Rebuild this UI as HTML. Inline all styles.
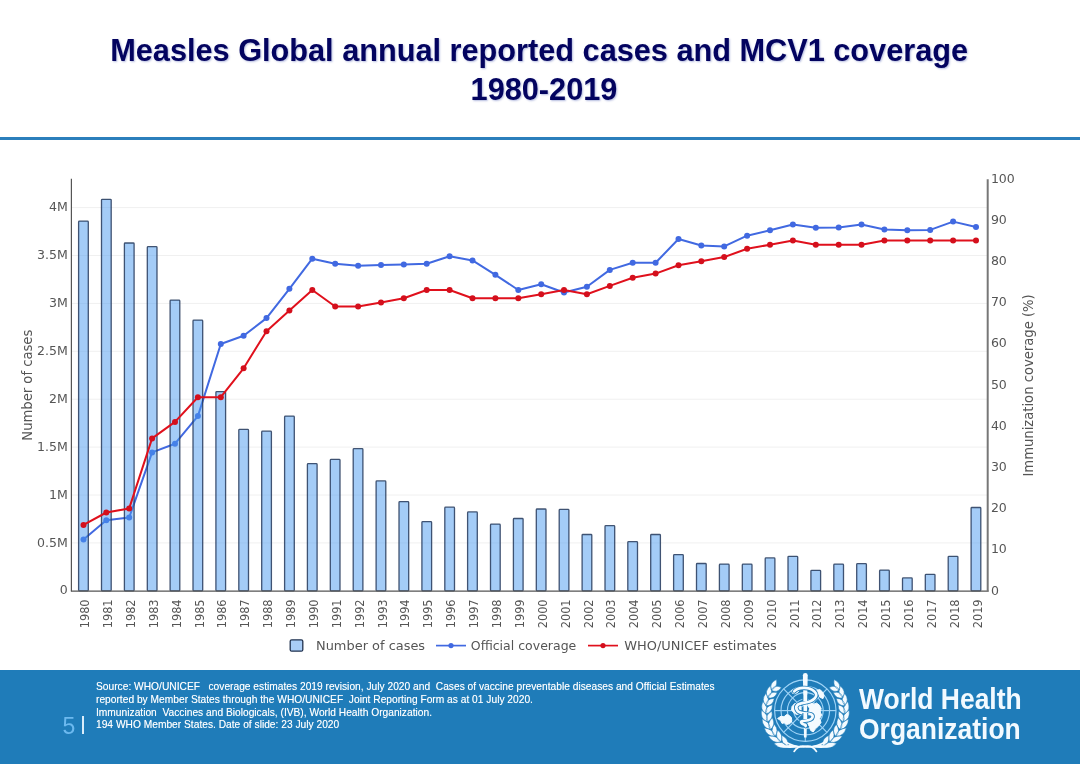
<!DOCTYPE html>
<html lang="en">
<head>
<meta charset="utf-8">
<title>Measles Global annual reported cases and MCV1 coverage 1980-2019</title>
<style>
html,body{margin:0;padding:0;background:#fff;}
body{width:1080px;height:764px;position:relative;overflow:hidden;font-family:"Liberation Sans",sans-serif;}
.title{position:absolute;left:0;top:0;width:1080px;text-align:left;color:#03035f;font-weight:bold;font-size:30.7px;line-height:38.2px;white-space:pre;text-shadow:1px 1.2px 2px rgba(60,80,170,0.38);}
.t1{position:absolute;left:110.2px;top:32.4px;}
.t2{position:absolute;left:470.6px;top:70.8px;}
.rule{position:absolute;left:0;top:136.7px;width:1080px;height:3.8px;background:#2b7fbc;}
.footer{position:absolute;left:0;top:669.5px;width:1080px;height:94.5px;background:#1f7cb9;}
.src{position:absolute;left:96.4px;color:#fff;font-size:10.6px;line-height:12.6px;white-space:pre;transform-origin:0 0;transform:scaleX(0.965);text-shadow:0 0 0.7px rgba(255,255,255,0.55);}
.pg{position:absolute;left:62.4px;top:713.8px;color:#6cb9ef;font-size:23px;line-height:24px;}
.bar{position:absolute;left:81.6px;top:716.2px;width:2.2px;height:18.2px;background:#d9ecfa;}
.who{position:absolute;left:858.6px;color:#f2faff;font-weight:bold;font-size:29.8px;line-height:30px;white-space:pre;transform-origin:0 0;transform:scaleX(0.888);}
</style>
</head>
<body>
<div class="title"><div class="t1">Measles Global annual reported cases and MCV1 coverage</div><div class="t2">1980-2019</div></div>
<div class="rule"></div>
<svg width="1080" height="764" viewBox="0 0 1080 764" style="position:absolute;left:0;top:0" font-family='"DejaVu Sans", "Liberation Sans", sans-serif' fill="#555">
<line x1="71.4" x2="987.7" y1="542.9" y2="542.9" stroke="#f0f0f0" stroke-width="1"/>
<line x1="71.4" x2="987.7" y1="495.0" y2="495.0" stroke="#f0f0f0" stroke-width="1"/>
<line x1="71.4" x2="987.7" y1="447.1" y2="447.1" stroke="#f0f0f0" stroke-width="1"/>
<line x1="71.4" x2="987.7" y1="399.2" y2="399.2" stroke="#f0f0f0" stroke-width="1"/>
<line x1="71.4" x2="987.7" y1="351.3" y2="351.3" stroke="#f0f0f0" stroke-width="1"/>
<line x1="71.4" x2="987.7" y1="303.4" y2="303.4" stroke="#f0f0f0" stroke-width="1"/>
<line x1="71.4" x2="987.7" y1="255.5" y2="255.5" stroke="#f0f0f0" stroke-width="1"/>
<line x1="71.4" x2="987.7" y1="207.6" y2="207.6" stroke="#f0f0f0" stroke-width="1"/>
<polyline points="83.5,539.5 106.3,520.3 129.2,517.5 152.1,452.4 175.0,443.7 197.9,416.1 220.8,344.0 243.6,335.8 266.5,318.1 289.4,288.8 312.3,258.7 335.2,263.7 358.1,265.7 381.0,265.1 403.8,264.5 426.7,263.7 449.6,256.3 472.5,260.4 495.4,274.8 518.3,290.0 541.2,284.3 564.0,292.5 586.9,286.7 609.8,269.9 632.7,262.8 655.6,262.8 678.5,239.0 701.3,245.5 724.2,246.4 747.1,235.7 770.0,230.3 792.9,224.5 815.8,227.8 838.7,227.4 861.5,224.5 884.4,229.5 907.3,230.3 930.2,229.9 953.1,221.6 976.0,227.0" fill="none" stroke="#4169e1" stroke-width="2" stroke-linejoin="round"/>
<circle cx="83.5" cy="539.5" r="3" fill="#4169e1"/>
<circle cx="106.3" cy="520.3" r="3" fill="#4169e1"/>
<circle cx="129.2" cy="517.5" r="3" fill="#4169e1"/>
<circle cx="152.1" cy="452.4" r="3" fill="#4169e1"/>
<circle cx="175.0" cy="443.7" r="3" fill="#4169e1"/>
<circle cx="197.9" cy="416.1" r="3" fill="#4169e1"/>
<circle cx="220.8" cy="344.0" r="3" fill="#4169e1"/>
<circle cx="243.6" cy="335.8" r="3" fill="#4169e1"/>
<circle cx="266.5" cy="318.1" r="3" fill="#4169e1"/>
<circle cx="289.4" cy="288.8" r="3" fill="#4169e1"/>
<circle cx="312.3" cy="258.7" r="3" fill="#4169e1"/>
<circle cx="335.2" cy="263.7" r="3" fill="#4169e1"/>
<circle cx="358.1" cy="265.7" r="3" fill="#4169e1"/>
<circle cx="381.0" cy="265.1" r="3" fill="#4169e1"/>
<circle cx="403.8" cy="264.5" r="3" fill="#4169e1"/>
<circle cx="426.7" cy="263.7" r="3" fill="#4169e1"/>
<circle cx="449.6" cy="256.3" r="3" fill="#4169e1"/>
<circle cx="472.5" cy="260.4" r="3" fill="#4169e1"/>
<circle cx="495.4" cy="274.8" r="3" fill="#4169e1"/>
<circle cx="518.3" cy="290.0" r="3" fill="#4169e1"/>
<circle cx="541.2" cy="284.3" r="3" fill="#4169e1"/>
<circle cx="564.0" cy="292.5" r="3" fill="#4169e1"/>
<circle cx="586.9" cy="286.7" r="3" fill="#4169e1"/>
<circle cx="609.8" cy="269.9" r="3" fill="#4169e1"/>
<circle cx="632.7" cy="262.8" r="3" fill="#4169e1"/>
<circle cx="655.6" cy="262.8" r="3" fill="#4169e1"/>
<circle cx="678.5" cy="239.0" r="3" fill="#4169e1"/>
<circle cx="701.3" cy="245.5" r="3" fill="#4169e1"/>
<circle cx="724.2" cy="246.4" r="3" fill="#4169e1"/>
<circle cx="747.1" cy="235.7" r="3" fill="#4169e1"/>
<circle cx="770.0" cy="230.3" r="3" fill="#4169e1"/>
<circle cx="792.9" cy="224.5" r="3" fill="#4169e1"/>
<circle cx="815.8" cy="227.8" r="3" fill="#4169e1"/>
<circle cx="838.7" cy="227.4" r="3" fill="#4169e1"/>
<circle cx="861.5" cy="224.5" r="3" fill="#4169e1"/>
<circle cx="884.4" cy="229.5" r="3" fill="#4169e1"/>
<circle cx="907.3" cy="230.3" r="3" fill="#4169e1"/>
<circle cx="930.2" cy="229.9" r="3" fill="#4169e1"/>
<circle cx="953.1" cy="221.6" r="3" fill="#4169e1"/>
<circle cx="976.0" cy="227.0" r="3" fill="#4169e1"/>
<g fill="#4a99f0" fill-opacity="0.5" stroke="#24385a" stroke-opacity="0.85" stroke-width="1.3">
<rect x="78.6" y="221.1" width="9.7" height="369.7" rx="0.8"/>
<rect x="101.5" y="199.3" width="9.7" height="391.5" rx="0.8"/>
<rect x="124.4" y="243.0" width="9.7" height="347.8" rx="0.8"/>
<rect x="147.3" y="246.7" width="9.7" height="344.1" rx="0.8"/>
<rect x="170.1" y="300.1" width="9.7" height="290.7" rx="0.8"/>
<rect x="193.0" y="320.1" width="9.7" height="270.7" rx="0.8"/>
<rect x="215.9" y="391.6" width="9.7" height="199.2" rx="0.8"/>
<rect x="238.8" y="429.4" width="9.7" height="161.4" rx="0.8"/>
<rect x="261.7" y="431.2" width="9.7" height="159.6" rx="0.8"/>
<rect x="284.6" y="416.1" width="9.7" height="174.7" rx="0.8"/>
<rect x="307.4" y="463.6" width="9.7" height="127.2" rx="0.8"/>
<rect x="330.3" y="459.4" width="9.7" height="131.4" rx="0.8"/>
<rect x="353.2" y="448.7" width="9.7" height="142.1" rx="0.8"/>
<rect x="376.1" y="480.9" width="9.7" height="109.9" rx="0.8"/>
<rect x="399.0" y="501.6" width="9.7" height="89.2" rx="0.8"/>
<rect x="421.9" y="521.6" width="9.7" height="69.2" rx="0.8"/>
<rect x="444.8" y="507.2" width="9.7" height="83.6" rx="0.8"/>
<rect x="467.6" y="511.9" width="9.7" height="78.9" rx="0.8"/>
<rect x="490.5" y="524.1" width="9.7" height="66.7" rx="0.8"/>
<rect x="513.4" y="518.5" width="9.7" height="72.3" rx="0.8"/>
<rect x="536.3" y="509.0" width="9.7" height="81.8" rx="0.8"/>
<rect x="559.2" y="509.4" width="9.7" height="81.4" rx="0.8"/>
<rect x="582.1" y="534.5" width="9.7" height="56.3" rx="0.8"/>
<rect x="605.0" y="525.7" width="9.7" height="65.1" rx="0.8"/>
<rect x="627.8" y="541.7" width="9.7" height="49.1" rx="0.8"/>
<rect x="650.7" y="534.5" width="9.7" height="56.3" rx="0.8"/>
<rect x="673.6" y="554.6" width="9.7" height="36.2" rx="0.8"/>
<rect x="696.5" y="563.5" width="9.7" height="27.3" rx="0.8"/>
<rect x="719.4" y="564.1" width="9.7" height="26.7" rx="0.8"/>
<rect x="742.3" y="564.1" width="9.7" height="26.7" rx="0.8"/>
<rect x="765.2" y="557.9" width="9.7" height="32.9" rx="0.8"/>
<rect x="788.0" y="556.3" width="9.7" height="34.5" rx="0.8"/>
<rect x="810.9" y="570.3" width="9.7" height="20.5" rx="0.8"/>
<rect x="833.8" y="564.1" width="9.7" height="26.7" rx="0.8"/>
<rect x="856.7" y="563.7" width="9.7" height="27.1" rx="0.8"/>
<rect x="879.6" y="570.1" width="9.7" height="20.7" rx="0.8"/>
<rect x="902.5" y="577.9" width="9.7" height="12.9" rx="0.8"/>
<rect x="925.3" y="574.3" width="9.7" height="16.5" rx="0.8"/>
<rect x="948.2" y="556.3" width="9.7" height="34.5" rx="0.8"/>
<rect x="971.1" y="507.5" width="9.7" height="83.3" rx="0.8"/>
</g>
<polyline points="83.5,524.9 106.3,512.5 129.2,508.4 152.1,438.4 175.0,421.9 197.9,397.2 220.8,397.2 243.6,368.3 266.5,331.2 289.4,310.6 312.3,290.0 335.2,306.5 358.1,306.5 381.0,302.4 403.8,298.3 426.7,290.0 449.6,290.0 472.5,298.3 495.4,298.3 518.3,298.3 541.2,294.2 564.0,290.0 586.9,294.2 609.8,285.9 632.7,277.7 655.6,273.6 678.5,265.3 701.3,261.2 724.2,257.1 747.1,248.8 770.0,244.7 792.9,240.6 815.8,244.7 838.7,244.7 861.5,244.7 884.4,240.6 907.3,240.6 930.2,240.6 953.1,240.6 976.0,240.6" fill="none" stroke="#e0101c" stroke-width="2" stroke-linejoin="round"/>
<circle cx="83.5" cy="524.9" r="3" fill="#d40f1c"/>
<circle cx="106.3" cy="512.5" r="3" fill="#d40f1c"/>
<circle cx="129.2" cy="508.4" r="3" fill="#d40f1c"/>
<circle cx="152.1" cy="438.4" r="3" fill="#d40f1c"/>
<circle cx="175.0" cy="421.9" r="3" fill="#d40f1c"/>
<circle cx="197.9" cy="397.2" r="3" fill="#d40f1c"/>
<circle cx="220.8" cy="397.2" r="3" fill="#d40f1c"/>
<circle cx="243.6" cy="368.3" r="3" fill="#d40f1c"/>
<circle cx="266.5" cy="331.2" r="3" fill="#d40f1c"/>
<circle cx="289.4" cy="310.6" r="3" fill="#d40f1c"/>
<circle cx="312.3" cy="290.0" r="3" fill="#d40f1c"/>
<circle cx="335.2" cy="306.5" r="3" fill="#d40f1c"/>
<circle cx="358.1" cy="306.5" r="3" fill="#d40f1c"/>
<circle cx="381.0" cy="302.4" r="3" fill="#d40f1c"/>
<circle cx="403.8" cy="298.3" r="3" fill="#d40f1c"/>
<circle cx="426.7" cy="290.0" r="3" fill="#d40f1c"/>
<circle cx="449.6" cy="290.0" r="3" fill="#d40f1c"/>
<circle cx="472.5" cy="298.3" r="3" fill="#d40f1c"/>
<circle cx="495.4" cy="298.3" r="3" fill="#d40f1c"/>
<circle cx="518.3" cy="298.3" r="3" fill="#d40f1c"/>
<circle cx="541.2" cy="294.2" r="3" fill="#d40f1c"/>
<circle cx="564.0" cy="290.0" r="3" fill="#d40f1c"/>
<circle cx="586.9" cy="294.2" r="3" fill="#d40f1c"/>
<circle cx="609.8" cy="285.9" r="3" fill="#d40f1c"/>
<circle cx="632.7" cy="277.7" r="3" fill="#d40f1c"/>
<circle cx="655.6" cy="273.6" r="3" fill="#d40f1c"/>
<circle cx="678.5" cy="265.3" r="3" fill="#d40f1c"/>
<circle cx="701.3" cy="261.2" r="3" fill="#d40f1c"/>
<circle cx="724.2" cy="257.1" r="3" fill="#d40f1c"/>
<circle cx="747.1" cy="248.8" r="3" fill="#d40f1c"/>
<circle cx="770.0" cy="244.7" r="3" fill="#d40f1c"/>
<circle cx="792.9" cy="240.6" r="3" fill="#d40f1c"/>
<circle cx="815.8" cy="244.7" r="3" fill="#d40f1c"/>
<circle cx="838.7" cy="244.7" r="3" fill="#d40f1c"/>
<circle cx="861.5" cy="244.7" r="3" fill="#d40f1c"/>
<circle cx="884.4" cy="240.6" r="3" fill="#d40f1c"/>
<circle cx="907.3" cy="240.6" r="3" fill="#d40f1c"/>
<circle cx="930.2" cy="240.6" r="3" fill="#d40f1c"/>
<circle cx="953.1" cy="240.6" r="3" fill="#d40f1c"/>
<circle cx="976.0" cy="240.6" r="3" fill="#d40f1c"/>
<line x1="71.4" x2="71.4" y1="178.8" y2="591.3" stroke="#555" stroke-width="1.2"/>
<line x1="70.9" x2="988.7" y1="591.1999999999999" y2="591.1999999999999" stroke="#555" stroke-width="1.2"/>
<line x1="987.7" x2="987.7" y1="179.3" y2="591.3" stroke="#777" stroke-width="2"/>
<text transform="translate(67.8,594.4) scale(1.1,1)" font-size="11.4" text-anchor="end">0</text>
<text transform="translate(67.8,546.5) scale(1.1,1)" font-size="11.4" text-anchor="end">0.5M</text>
<text transform="translate(67.8,498.6) scale(1.1,1)" font-size="11.4" text-anchor="end">1M</text>
<text transform="translate(67.8,450.7) scale(1.1,1)" font-size="11.4" text-anchor="end">1.5M</text>
<text transform="translate(67.8,402.8) scale(1.1,1)" font-size="11.4" text-anchor="end">2M</text>
<text transform="translate(67.8,354.9) scale(1.1,1)" font-size="11.4" text-anchor="end">2.5M</text>
<text transform="translate(67.8,307.0) scale(1.1,1)" font-size="11.4" text-anchor="end">3M</text>
<text transform="translate(67.8,259.1) scale(1.1,1)" font-size="11.4" text-anchor="end">3.5M</text>
<text transform="translate(67.8,211.2) scale(1.1,1)" font-size="11.4" text-anchor="end">4M</text>
<text transform="translate(990.9,594.6) scale(1.1,1)" font-size="11.4">0</text>
<text transform="translate(990.9,553.4) scale(1.1,1)" font-size="11.4">10</text>
<text transform="translate(990.9,512.2) scale(1.1,1)" font-size="11.4">20</text>
<text transform="translate(990.9,471.0) scale(1.1,1)" font-size="11.4">30</text>
<text transform="translate(990.9,429.8) scale(1.1,1)" font-size="11.4">40</text>
<text transform="translate(990.9,388.6) scale(1.1,1)" font-size="11.4">50</text>
<text transform="translate(990.9,347.4) scale(1.1,1)" font-size="11.4">60</text>
<text transform="translate(990.9,306.2) scale(1.1,1)" font-size="11.4">70</text>
<text transform="translate(990.9,265.0) scale(1.1,1)" font-size="11.4">80</text>
<text transform="translate(990.9,223.8) scale(1.1,1)" font-size="11.4">90</text>
<text transform="translate(990.9,182.6) scale(1.1,1)" font-size="11.4">100</text>
<text transform="translate(89.0,599.4) rotate(-90) scale(0.925,1)" font-size="12.3" text-anchor="end">1980</text>
<text transform="translate(111.9,599.4) rotate(-90) scale(0.925,1)" font-size="12.3" text-anchor="end">1981</text>
<text transform="translate(134.8,599.4) rotate(-90) scale(0.925,1)" font-size="12.3" text-anchor="end">1982</text>
<text transform="translate(157.7,599.4) rotate(-90) scale(0.925,1)" font-size="12.3" text-anchor="end">1983</text>
<text transform="translate(180.6,599.4) rotate(-90) scale(0.925,1)" font-size="12.3" text-anchor="end">1984</text>
<text transform="translate(203.5,599.4) rotate(-90) scale(0.925,1)" font-size="12.3" text-anchor="end">1985</text>
<text transform="translate(226.4,599.4) rotate(-90) scale(0.925,1)" font-size="12.3" text-anchor="end">1986</text>
<text transform="translate(249.2,599.4) rotate(-90) scale(0.925,1)" font-size="12.3" text-anchor="end">1987</text>
<text transform="translate(272.1,599.4) rotate(-90) scale(0.925,1)" font-size="12.3" text-anchor="end">1988</text>
<text transform="translate(295.0,599.4) rotate(-90) scale(0.925,1)" font-size="12.3" text-anchor="end">1989</text>
<text transform="translate(317.9,599.4) rotate(-90) scale(0.925,1)" font-size="12.3" text-anchor="end">1990</text>
<text transform="translate(340.8,599.4) rotate(-90) scale(0.925,1)" font-size="12.3" text-anchor="end">1991</text>
<text transform="translate(363.7,599.4) rotate(-90) scale(0.925,1)" font-size="12.3" text-anchor="end">1992</text>
<text transform="translate(386.6,599.4) rotate(-90) scale(0.925,1)" font-size="12.3" text-anchor="end">1993</text>
<text transform="translate(409.4,599.4) rotate(-90) scale(0.925,1)" font-size="12.3" text-anchor="end">1994</text>
<text transform="translate(432.3,599.4) rotate(-90) scale(0.925,1)" font-size="12.3" text-anchor="end">1995</text>
<text transform="translate(455.2,599.4) rotate(-90) scale(0.925,1)" font-size="12.3" text-anchor="end">1996</text>
<text transform="translate(478.1,599.4) rotate(-90) scale(0.925,1)" font-size="12.3" text-anchor="end">1997</text>
<text transform="translate(501.0,599.4) rotate(-90) scale(0.925,1)" font-size="12.3" text-anchor="end">1998</text>
<text transform="translate(523.9,599.4) rotate(-90) scale(0.925,1)" font-size="12.3" text-anchor="end">1999</text>
<text transform="translate(546.8,599.4) rotate(-90) scale(0.925,1)" font-size="12.3" text-anchor="end">2000</text>
<text transform="translate(569.6,599.4) rotate(-90) scale(0.925,1)" font-size="12.3" text-anchor="end">2001</text>
<text transform="translate(592.5,599.4) rotate(-90) scale(0.925,1)" font-size="12.3" text-anchor="end">2002</text>
<text transform="translate(615.4,599.4) rotate(-90) scale(0.925,1)" font-size="12.3" text-anchor="end">2003</text>
<text transform="translate(638.3,599.4) rotate(-90) scale(0.925,1)" font-size="12.3" text-anchor="end">2004</text>
<text transform="translate(661.2,599.4) rotate(-90) scale(0.925,1)" font-size="12.3" text-anchor="end">2005</text>
<text transform="translate(684.1,599.4) rotate(-90) scale(0.925,1)" font-size="12.3" text-anchor="end">2006</text>
<text transform="translate(706.9,599.4) rotate(-90) scale(0.925,1)" font-size="12.3" text-anchor="end">2007</text>
<text transform="translate(729.8,599.4) rotate(-90) scale(0.925,1)" font-size="12.3" text-anchor="end">2008</text>
<text transform="translate(752.7,599.4) rotate(-90) scale(0.925,1)" font-size="12.3" text-anchor="end">2009</text>
<text transform="translate(775.6,599.4) rotate(-90) scale(0.925,1)" font-size="12.3" text-anchor="end">2010</text>
<text transform="translate(798.5,599.4) rotate(-90) scale(0.925,1)" font-size="12.3" text-anchor="end">2011</text>
<text transform="translate(821.4,599.4) rotate(-90) scale(0.925,1)" font-size="12.3" text-anchor="end">2012</text>
<text transform="translate(844.3,599.4) rotate(-90) scale(0.925,1)" font-size="12.3" text-anchor="end">2013</text>
<text transform="translate(867.1,599.4) rotate(-90) scale(0.925,1)" font-size="12.3" text-anchor="end">2014</text>
<text transform="translate(890.0,599.4) rotate(-90) scale(0.925,1)" font-size="12.3" text-anchor="end">2015</text>
<text transform="translate(912.9,599.4) rotate(-90) scale(0.925,1)" font-size="12.3" text-anchor="end">2016</text>
<text transform="translate(935.8,599.4) rotate(-90) scale(0.925,1)" font-size="12.3" text-anchor="end">2017</text>
<text transform="translate(958.7,599.4) rotate(-90) scale(0.925,1)" font-size="12.3" text-anchor="end">2018</text>
<text transform="translate(981.6,599.4) rotate(-90) scale(0.925,1)" font-size="12.3" text-anchor="end">2019</text>
<text transform="translate(32.3,385.2) rotate(-90) scale(0.935,1)" font-size="14.1" text-anchor="middle">Number of cases</text>
<text transform="translate(1033.2,385.4) rotate(-90) scale(0.935,1)" font-size="14.1" text-anchor="middle">Immunization coverage (%)</text>
<rect x="290.2" y="639.8" width="12.6" height="11.4" rx="1.5" fill="#a9cdf7" stroke="#22334f" stroke-width="1.3"/>
<text transform="translate(316.0,650.0) scale(1.07,1)" font-size="12.1">Number of cases</text>
<line x1="436" x2="466" y1="645.6" y2="645.6" stroke="#4169e1" stroke-width="1.7"/><circle cx="451" cy="645.6" r="2.6" fill="#4169e1"/>
<text transform="translate(470.8,650.0) scale(1.036,1)" font-size="12.1">Official coverage</text>
<line x1="588" x2="618" y1="645.6" y2="645.6" stroke="#e0101c" stroke-width="1.7"/><circle cx="603" cy="645.6" r="2.6" fill="#d40f1c"/>
<text transform="translate(624.3,650.0) scale(1.07,1)" font-size="12.1">WHO/UNICEF estimates</text>
</svg>
<div class="footer"></div>
<div class="src" style="top:680.4px">Source: WHO/UNICEF   coverage estimates 2019 revision, July 2020 and  Cases of vaccine preventable diseases and Official Estimates</div>
<div class="src" style="top:693.0px">reported by Member States through the WHO/UNICEF  Joint Reporting Form as at 01 July 2020.</div>
<div class="src" style="top:705.6px">Immunization  Vaccines and Biologicals, (IVB), World Health Organization.</div>
<div class="src" style="top:718.2px">194 WHO Member States. Date of slide: 23 July 2020</div>
<div class="pg">5</div><div class="bar"></div>
<svg width="1080" height="764" viewBox="0 0 1080 764" style="position:absolute;left:0;top:0">
<g fill="none" stroke="#9fd4f7" stroke-width="1.15">
<circle cx="805.3" cy="710.6" r="30.7"/>
<circle cx="805.3" cy="710.6" r="24.3"/>
<circle cx="805.3" cy="710.6" r="17.9"/>
<circle cx="805.3" cy="710.6" r="11.6"/>
<circle cx="805.3" cy="710.6" r="5.4"/>
<line x1="810.7" y1="710.6" x2="836.0" y2="710.6"/>
<line x1="809.1" y1="714.4" x2="827.0" y2="732.3"/>
<line x1="805.3" y1="716.0" x2="805.3" y2="741.3"/>
<line x1="801.5" y1="714.4" x2="783.6" y2="732.3"/>
<line x1="799.9" y1="710.6" x2="774.6" y2="710.6"/>
<line x1="801.5" y1="706.8" x2="783.6" y2="688.9"/>
<line x1="805.3" y1="705.2" x2="805.3" y2="679.9"/>
<line x1="809.1" y1="706.8" x2="827.0" y2="688.9"/>
</g>
<path d="M777.6,718.5 L781.0,716.2 L784.0,716.8 L786.5,714.6 L789.0,715.2 L791.4,717.6 L791.8,721.0 L790.0,723.6 L786.6,724.6 L784.6,722.8 L782.0,723.4 L780.6,720.6Z" fill="#f4fbff" stroke="#f4fbff" stroke-width="1" stroke-linejoin="round"/>
<path d="M807.6,704.6 L810.8,703.2 L814.5,704.2 L816.5,703.0 L819.4,705.2 L821.2,708.5 L820.2,712.0 L821.6,715.0 L819.6,718.6 L821.0,722.4 L818.6,726.0 L815.6,728.6 L813.2,732.0 L810.6,730.4 L809.4,726.4 L807.6,723.6 L809.4,720.0 L812.2,717.6 L811.2,714.0 L808.6,712.6 L809.6,708.6Z" fill="#f4fbff" stroke="#f4fbff" stroke-width="1" stroke-linejoin="round"/>
<path d="M791.8,690.6 L794.6,688.6 L798.0,688.4 L799.6,690.4 L797.6,692.4 L795.0,693.8 L792.4,693.2Z" fill="#f4fbff" stroke="#f4fbff" stroke-width="1" stroke-linejoin="round"/>
<path d="M816.6,690.4 L819.8,689.6 L822.6,692.0 L824.0,695.4 L823.0,698.6 L820.2,697.4 L818.6,694.4Z" fill="#f4fbff" stroke="#f4fbff" stroke-width="1" stroke-linejoin="round"/>
<path d="M792.0,706.6 L794.6,703.6 L798.0,703.4 L800.6,705.6 L801.2,709.6 L799.6,713.6 L796.6,714.6 L793.6,712.6 L791.6,710.0Z" fill="#f4fbff" stroke="#f4fbff" stroke-width="1" stroke-linejoin="round"/>
<path d="M802.9,675.2 Q802.9,672.9 805.3,672.9 Q807.6999999999999,672.9 807.6999999999999,675.2 L806.5999999999999,737.6 L804.0,737.6Z" fill="#f4fbff"/>
<path d="M794.2,691.4 C798.0,687.2 809.0,686.4 814.4,691.4 S812.6,701.6 804.8,702.6 S794.4,706.2 797.4,710.8 S813.6,711.6 812.6,717.0 S799.6,719.4 801.2,722.6 S806.4,723.6 805.6,726.2" fill="none" stroke="#1f7cb9" stroke-width="4.4" stroke-linecap="round"/>
<path d="M794.2,691.4 C798.0,687.2 809.0,686.4 814.4,691.4 S812.6,701.6 804.8,702.6 S794.4,706.2 797.4,710.8 S813.6,711.6 812.6,717.0 S799.6,719.4 801.2,722.6 S806.4,723.6 805.6,726.2" fill="none" stroke="#f4fbff" stroke-width="2.7" stroke-linecap="round"/>
<rect x="802.4" y="694.5" width="5.8" height="6.0" fill="#1f7cb9"/>
<rect x="803.4" y="694.0" width="3.8" height="7.0" fill="#f4fbff"/>
<rect x="802.4" y="713.0" width="5.8" height="5.5" fill="#1f7cb9"/>
<rect x="803.4" y="712.5" width="3.8" height="6.5" fill="#f4fbff"/>
<path d="M787.8,746.5Q782.7,740.2 773.9,743.4Q780.5,750.0 787.8,746.5ZM787.8,746.5Q789.5,739.0 781.7,735.2Q780.7,743.8 787.8,746.5ZM780.8,742.1Q777.3,734.9 768.3,736.1Q773.0,743.9 780.8,742.1ZM780.8,742.1Q784.1,735.3 777.5,730.0Q774.5,738.0 780.8,742.1ZM774.8,736.4Q773.2,728.7 764.2,727.9Q766.9,736.5 774.8,736.4ZM774.8,736.4Q779.6,730.7 774.3,724.2Q769.6,731.1 774.8,736.4ZM770.2,729.6Q770.4,721.8 762.0,719.1Q762.6,728.0 770.2,729.6ZM770.2,729.6Q776.1,725.2 772.4,717.8Q766.3,723.3 770.2,729.6ZM767.0,721.9Q769.1,714.5 761.5,710.2Q760.0,718.8 767.0,721.9ZM767.0,721.9Q773.7,719.1 771.8,711.2Q764.6,715.1 767.0,721.9ZM765.5,713.8Q769.2,707.2 762.9,701.4Q759.4,709.3 765.5,713.8ZM765.5,713.8Q772.6,712.7 772.4,704.7Q764.6,706.7 765.5,713.8ZM765.7,705.6Q770.8,700.1 765.9,693.2Q760.8,699.9 765.7,705.6ZM765.7,705.6Q772.8,706.2 774.3,698.4Q766.3,698.5 765.7,705.6ZM767.6,697.5Q773.8,693.5 770.5,685.8Q764.1,691.0 767.6,697.5ZM767.6,697.5Q774.2,699.8 777.3,692.6Q769.7,690.8 767.6,697.5ZM771.1,690.0Q778.0,687.6 776.5,679.5Q769.1,683.0 771.1,690.0ZM771.1,690.0Q776.9,693.8 781.4,687.5Q774.5,684.0 771.1,690.0ZM822.8,746.5Q830.1,750.0 836.7,743.4Q827.9,740.2 822.8,746.5ZM822.8,746.5Q829.9,743.8 828.9,735.2Q821.1,739.0 822.8,746.5ZM829.8,742.1Q837.6,743.9 842.3,736.1Q833.3,734.9 829.8,742.1ZM829.8,742.1Q836.1,738.0 833.1,730.0Q826.5,735.3 829.8,742.1ZM835.8,736.4Q843.7,736.5 846.4,727.9Q837.4,728.7 835.8,736.4ZM835.8,736.4Q841.0,731.1 836.3,724.2Q831.0,730.7 835.8,736.4ZM840.4,729.6Q848.0,728.0 848.6,719.1Q840.2,721.8 840.4,729.6ZM840.4,729.6Q844.3,723.3 838.2,717.8Q834.5,725.2 840.4,729.6ZM843.6,721.9Q850.6,718.8 849.1,710.2Q841.5,714.5 843.6,721.9ZM843.6,721.9Q846.0,715.1 838.8,711.2Q836.9,719.1 843.6,721.9ZM845.1,713.8Q851.2,709.3 847.7,701.4Q841.4,707.2 845.1,713.8ZM845.1,713.8Q846.0,706.7 838.2,704.7Q838.0,712.7 845.1,713.8ZM844.9,705.6Q849.8,699.9 844.7,693.2Q839.8,700.1 844.9,705.6ZM844.9,705.6Q844.3,698.5 836.3,698.4Q837.8,706.2 844.9,705.6ZM843.0,697.5Q846.5,691.0 840.1,685.8Q836.8,693.5 843.0,697.5ZM843.0,697.5Q840.9,690.8 833.3,692.6Q836.4,699.8 843.0,697.5ZM839.5,690.0Q841.5,683.0 834.1,679.5Q832.6,687.6 839.5,690.0ZM839.5,690.0Q836.1,684.0 829.2,687.5Q833.7,693.8 839.5,690.0Z" fill="#f4fbff" stroke="#1f7cb9" stroke-width="0.55"/>
<path d="M784.5,741.5 Q797,748.5 806,746.4 Q812,745.2 816.5,751.4" fill="none" stroke="#f4fbff" stroke-width="1.7" stroke-linecap="round"/>
<path d="M826.1,741.5 Q813.6,748.5 804.6,746.4 Q798.6,745.2 794.1,751.4" fill="none" stroke="#f4fbff" stroke-width="1.7" stroke-linecap="round"/>
<path d="M801.5,746.6Q790.5,743.6 777.0,746.6Q790.5,749.6 801.5,746.6ZM809.1,746.6Q820.1,749.6 833.6,746.6Q820.1,743.6 809.1,746.6Z" fill="#f4fbff"/>
</svg>
<div class="who" style="top:684.0px">World Health</div>
<div class="who" style="top:713.9px">Organization</div>
</body>
</html>
